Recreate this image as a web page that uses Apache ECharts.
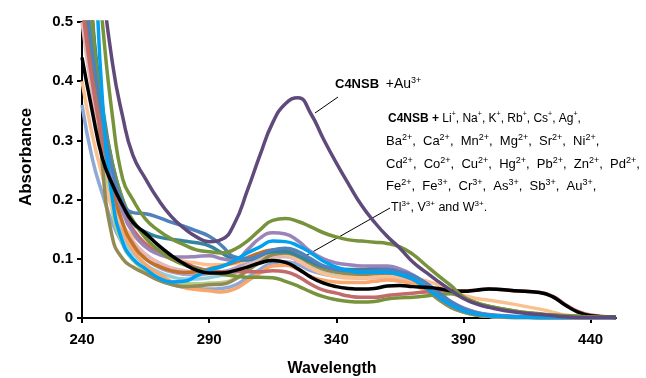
<!DOCTYPE html>
<html><head><meta charset="utf-8">
<script src="https://cdn.jsdelivr.net/npm/echarts@6/dist/echarts.min.js"></script>
<style>html,body{margin:0;padding:0;background:#fff}#c{width:646px;height:378px}</style>
</head><body><div id="c"></div>
<script>
const wavelength = [240,244,248,252,256,260,265,270,275,280,285,290,295,300,305,310,315,320,325,330,335,340,345,350,355,360,365,370,375,380,385,390,395,400,410,420,425,430,435,440,450];
const xTickValues = [240,290,340,390,440];
const yTickValues = [0,0.1,0.2,0.3,0.4,0.5];

const grayBlue = [0.36,0.27,0.21,0.16,0.125,0.1,0.08,0.065,0.057,0.052,0.05,0.049,0.05,0.055,0.068,0.082,0.093,0.095,0.09,0.08,0.074,0.071,0.07,0.07,0.071,0.072,0.069,0.062,0.049,0.033,0.02,0.011,0.006,0.003,0.001,0.001,0.001,0.001,0.001,0.001,0.001];
const lightGreen = [0.7,0.5,0.3,0.18,0.125,0.098,0.08,0.068,0.061,0.058,0.058,0.059,0.06,0.066,0.08,0.094,0.103,0.104,0.097,0.086,0.078,0.073,0.071,0.07,0.071,0.072,0.069,0.062,0.048,0.032,0.019,0.01,0.005,0.003,0.001,0.001,0.001,0.001,0.001,0.001,0.001];
const lightBlue = [0.7,0.5,0.32,0.2,0.14,0.11,0.09,0.078,0.07,0.066,0.066,0.068,0.072,0.077,0.088,0.1,0.11,0.11,0.102,0.09,0.082,0.077,0.075,0.074,0.075,0.076,0.073,0.065,0.05,0.034,0.02,0.011,0.006,0.003,0.001,0.001,0.001,0.001,0.001,0.001,0.001];
const lightPurple = [0.6,0.44,0.31,0.22,0.16,0.125,0.1,0.086,0.078,0.074,0.073,0.075,0.078,0.084,0.095,0.106,0.114,0.115,0.108,0.096,0.086,0.081,0.079,0.078,0.079,0.08,0.077,0.069,0.055,0.039,0.025,0.014,0.008,0.004,0.002,0.001,0.001,0.001,0.001,0.001,0.001];
const pink = [0.5,0.38,0.28,0.21,0.16,0.13,0.108,0.094,0.085,0.08,0.077,0.076,0.077,0.08,0.088,0.097,0.104,0.104,0.096,0.084,0.075,0.07,0.068,0.067,0.068,0.069,0.067,0.06,0.048,0.034,0.021,0.012,0.007,0.004,0.002,0.001,0.001,0.001,0.001,0.001,0.001];
const orange = [0.6,0.43,0.3,0.21,0.15,0.115,0.09,0.075,0.062,0.052,0.048,0.046,0.044,0.049,0.062,0.076,0.088,0.089,0.082,0.07,0.064,0.061,0.06,0.06,0.062,0.064,0.062,0.057,0.046,0.034,0.022,0.013,0.008,0.005,0.002,0.001,0.001,0.001,0.001,0.001,0.001];
const khaki = [0.75,0.52,0.26,0.135,0.1,0.086,0.075,0.064,0.057,0.053,0.054,0.056,0.057,0.065,0.08,0.094,0.107,0.11,0.104,0.092,0.083,0.078,0.076,0.075,0.076,0.077,0.074,0.066,0.05,0.032,0.018,0.01,0.005,0.003,0.001,0.001,0.001,0.001,0.001,0.001,0.001];
const peach = [0.4,0.31,0.24,0.185,0.155,0.138,0.126,0.114,0.102,0.096,0.093,0.09,0.09,0.092,0.097,0.104,0.11,0.108,0.098,0.085,0.075,0.07,0.068,0.068,0.07,0.071,0.07,0.068,0.063,0.056,0.045,0.038,0.033,0.03,0.023,0.015,0.01,0.005,0.003,0.002,0.001];
const brown = [0.55,0.42,0.31,0.22,0.16,0.125,0.1,0.088,0.08,0.077,0.078,0.083,0.088,0.094,0.102,0.11,0.115,0.114,0.105,0.093,0.083,0.078,0.075,0.074,0.075,0.076,0.073,0.065,0.052,0.037,0.024,0.014,0.008,0.004,0.002,0.001,0.001,0.001,0.001,0.001,0.001];
const red = [0.53,0.4,0.3,0.23,0.18,0.15,0.125,0.11,0.1,0.093,0.085,0.08,0.078,0.078,0.078,0.078,0.08,0.078,0.07,0.057,0.047,0.042,0.037,0.035,0.035,0.038,0.04,0.042,0.044,0.046,0.046,0.046,0.047,0.049,0.046,0.043,0.037,0.023,0.011,0.005,0.001];
const teal = [0.7,0.5,0.36,0.26,0.2,0.16,0.145,0.137,0.133,0.13,0.127,0.122,0.11,0.099,0.098,0.105,0.112,0.112,0.105,0.095,0.087,0.083,0.082,0.082,0.084,0.085,0.079,0.068,0.055,0.039,0.026,0.016,0.009,0.005,0.002,0.001,0.001,0.001,0.001,0.001,0.001];
const lavender = [0.65,0.48,0.34,0.24,0.18,0.145,0.12,0.108,0.103,0.103,0.104,0.105,0.1,0.097,0.115,0.135,0.144,0.142,0.13,0.112,0.1,0.093,0.09,0.088,0.088,0.088,0.083,0.073,0.058,0.042,0.028,0.017,0.01,0.006,0.003,0.001,0.001,0.001,0.001,0.001,0.001];
const oliveLow = [0.75,0.5,0.35,0.26,0.2,0.165,0.135,0.115,0.1,0.09,0.083,0.078,0.074,0.071,0.069,0.069,0.068,0.062,0.054,0.044,0.036,0.031,0.028,0.027,0.028,0.032,0.034,0.035,0.037,0.04,0.041,0.034,0.026,0.02,0.012,0.007,0.005,0.004,0.003,0.002,0.001];
const steelBlue = [0.6,0.45,0.34,0.25,0.195,0.178,0.176,0.17,0.162,0.155,0.147,0.138,0.122,0.103,0.1,0.106,0.115,0.118,0.112,0.1,0.088,0.082,0.08,0.079,0.08,0.082,0.078,0.072,0.06,0.044,0.028,0.016,0.009,0.005,0.002,0.001,0.001,0.001,0.001,0.001,0.001];
const brightBlue = [0.9,0.7,0.37,0.2,0.128,0.1,0.083,0.068,0.061,0.062,0.071,0.081,0.087,0.097,0.11,0.12,0.13,0.129,0.122,0.11,0.096,0.086,0.08,0.077,0.077,0.077,0.073,0.066,0.052,0.036,0.022,0.012,0.007,0.004,0.002,0.001,0.001,0.001,0.001,0.001,0.001];
const blackLine = [0.44,0.35,0.27,0.225,0.19,0.162,0.143,0.123,0.106,0.092,0.081,0.076,0.076,0.08,0.086,0.093,0.097,0.094,0.083,0.069,0.059,0.053,0.05,0.049,0.05,0.054,0.055,0.053,0.052,0.05,0.046,0.045,0.047,0.049,0.046,0.043,0.036,0.022,0.01,0.004,0.001];
const oliveHigh = [1.0,0.7,0.5,0.34,0.235,0.2,0.167,0.148,0.134,0.124,0.115,0.112,0.11,0.116,0.13,0.149,0.165,0.168,0.163,0.154,0.144,0.137,0.132,0.13,0.128,0.126,0.12,0.108,0.09,0.072,0.055,0.036,0.026,0.02,0.012,0.007,0.005,0.004,0.003,0.002,0.001];
const auIon = [1.1,0.85,0.58,0.43,0.34,0.275,0.235,0.2,0.172,0.152,0.137,0.129,0.133,0.16,0.215,0.275,0.33,0.362,0.372,0.345,0.302,0.262,0.225,0.19,0.162,0.138,0.118,0.095,0.078,0.062,0.047,0.033,0.024,0.018,0.01,0.006,0.004,0.002,0.001,0.001,0.001];

const seriesDefs = [
  ['grayBlue', grayBlue, '#8EA9D6'],
  ['lightGreen', lightGreen, '#B5CF8A'],
  ['lightBlue', lightBlue, '#92CDDC'],
  ['lightPurple', lightPurple, '#B3A2C7'],
  ['pink', pink, '#E6B9B8'],
  ['orange', orange, '#F8A66B'],
  ['peach', peach, '#FAC090'],
  ['brown', brown, '#C0712A'],
  ['khaki', khaki, '#948A54'],
  ['red', red, '#C46A6A'],
  ['teal', teal, '#31859C'],
  ['lavender', lavender, '#9A84BA'],
  ['oliveLow', oliveLow, '#77933C'],
  ['steelBlue', steelBlue, '#4F81BD'],
  ['brightBlue', brightBlue, '#00A2F0'],
  ['black', blackLine, '#000000'],
  ['oliveHigh', oliveHigh, '#77933C'],
  ['Au3+', auIon, '#604A7B']
];

const chart = echarts.init(document.getElementById('c'), null, {renderer: 'canvas'});
const annFont = '"Liberation Sans", Arial, sans-serif';
function richSet(base, sup) {
  return {
    b: {fontSize: base, fontWeight: 'bold', fontFamily: annFont, lineHeight: 16},
    n: {fontSize: base, fontFamily: annFont, lineHeight: 16},
    s: {fontSize: sup, fontFamily: annFont, lineHeight: 16, verticalAlign: 'top'}
  };
}
const blockLines = [
  '{b|C4NSB +} {n|Li}{s|+}{n|, Na}{s|+}{n|, K}{s|+}{n|, Rb}{s|+}{n|, Cs}{s|+}{n|, Ag}{s|+}{n|,}',
  '{n|Ba}{s|2+}{n|,  Ca}{s|2+}{n|,  Mn}{s|2+}{n|,  Mg}{s|2+}{n|,  Sr}{s|2+}{n|,  Ni}{s|2+}{n|,}',
  '{n|Cd}{s|2+}{n|,  Co}{s|2+}{n|,  Cu}{s|2+}{n|,  Hg}{s|2+}{n|,  Pb}{s|2+}{n|,  Zn}{s|2+}{n|,  Pd}{s|2+}{n|,}',
  '{n|Fe}{s|2+}{n|,  Fe}{s|3+}{n|,  Cr}{s|3+}{n|,  As}{s|3+}{n|,  Sb}{s|3+}{n|,  Au}{s|3+}{n|,}',
  '{n|Tl}{s|3+}{n|, V}{s|3+}{n| and W}{s|3+}{n|.}'
];
const blockY = [119, 141.5, 164, 186.5, 208];
const blockX = [388, 386, 386, 386, 391];
const blockBase = [12, 13, 13, 13, 12.5];
const blockSup = [7, 9, 9, 9, 8];

const graphics = [
  {type: 'text', x: 26, y: 157, rotation: Math.PI / 2, style: {text: 'Absorbance', fontSize: 17, fontWeight: 'bold', fontFamily: '"Liberation Sans", Arial, sans-serif', fill: '#000', textAlign: 'center', textVerticalAlign: 'middle'}},
  {type: 'text', x: 332, y: 369, style: {text: 'Wavelength', fontSize: 16, fontWeight: 'bold', fontFamily: '"Liberation Sans", Arial, sans-serif', fill: '#000', textAlign: 'center', textVerticalAlign: 'middle'}},
  {type: 'text', x: 335, y: 84, style: {text: '{b|C4NSB}  {n|+Au}{s|3+}', rich: {
    b: {fontSize: 13, fontWeight: 'bold', fontFamily: annFont, lineHeight: 16},
    n: {fontSize: 14, fontFamily: annFont, lineHeight: 16},
    s: {fontSize: 9, fontFamily: annFont, lineHeight: 16, verticalAlign: 'top'}
  }, fill: '#000', textVerticalAlign: 'middle'}},
  {type: 'line', shape: {x1: 315, y1: 113, x2: 338, y2: 97}, style: {stroke: '#000', lineWidth: 1}},
  {type: 'line', shape: {x1: 390, y1: 208, x2: 293, y2: 263}, style: {stroke: '#000', lineWidth: 1}}
];
blockLines.forEach((t, i) => {
  graphics.push({type: 'text', x: blockX[i], y: blockY[i], style: {text: t, rich: richSet(blockBase[i], blockSup[i]), fill: '#000', textVerticalAlign: 'middle'}});
});

chart.setOption({
  animation: false,
  backgroundColor: '#fff',
  grid: {left: 82, right: 30, top: 22, bottom: 60, containLabel: false},
  xAxis: {
    type: 'value', min: 240, max: 450,
    axisLine: {show: true, lineStyle: {color: '#000', width: 2}},
    axisTick: {show: true, length: 5, lineStyle: {color: '#000', width: 2}, customValues: xTickValues},
    axisLabel: {customValues: xTickValues, color: '#000', fontSize: 15, fontWeight: 'bold', fontFamily: '"Liberation Sans", Arial, sans-serif', margin: 14},
    splitLine: {show: false}
  },
  yAxis: {
    type: 'value', min: 0, max: 0.5, interval: 0.1,
    axisLine: {show: true, lineStyle: {color: '#000', width: 2}},
    axisTick: {show: true, length: 5, lineStyle: {color: '#000', width: 2}, customValues: yTickValues},
    axisLabel: {customValues: yTickValues, color: '#000', fontSize: 15, fontWeight: 'bold', fontFamily: '"Liberation Sans", Arial, sans-serif', margin: 9,
      formatter: v => v === 0 ? '0' : v.toFixed(1)},
    splitLine: {show: false}
  },
  series: seriesDefs.map(([name, vals, color]) => ({
    name: name, type: 'line', showSymbol: false, smooth: 0.5, clip: true, silent: true,
    data: wavelength.map((w, i) => [w, vals[i]]),
    lineStyle: {color: color, width: 3.5},
    itemStyle: {color: color}
  })),
  graphic: graphics
});
</script></body></html>
